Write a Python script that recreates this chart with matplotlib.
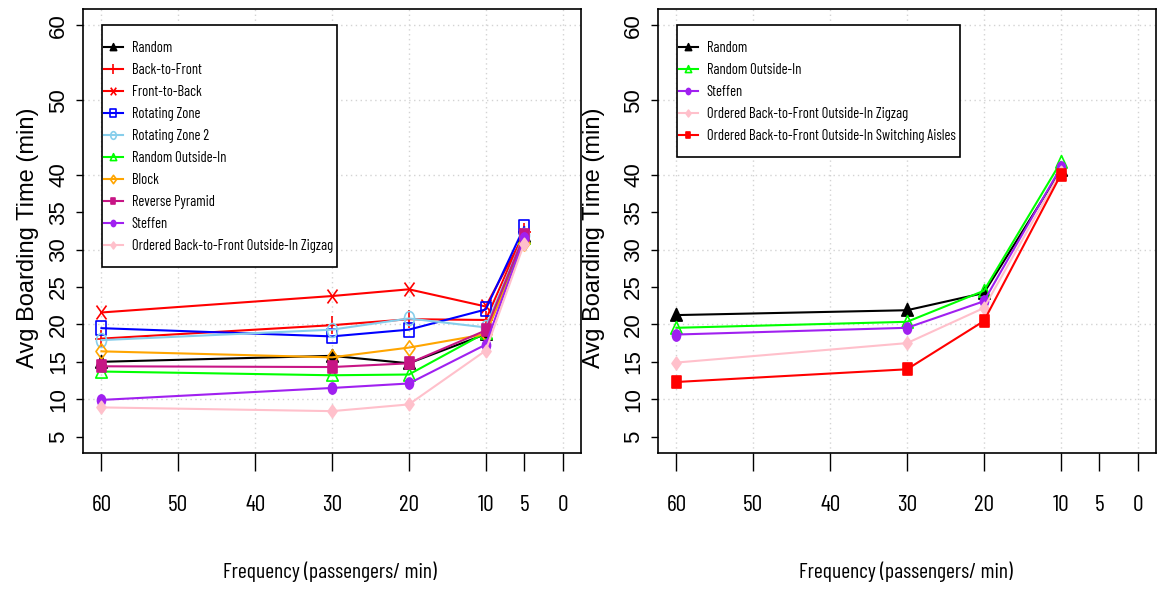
import matplotlib
matplotlib.use("Agg")
import matplotlib.pyplot as plt
from matplotlib import font_manager
from matplotlib.path import Path
from matplotlib.patches import Rectangle
from matplotlib.transforms import Affine2D

# frequency (passengers/min) at which each scenario was simulated
freq_left = [60, 30, 20, 10, 5]
freq_right = [60, 30, 20, 10]

# left panel: avg boarding time (min)
random_l = [15.0, 15.8, 14.8, 18.7, 31.8]
back_to_front = [18.1, 19.9, 20.7, 20.6, 32.3]
front_to_back = [21.6, 23.8, 24.7, 22.4, 32.0]
rotating_zone = [19.5, 18.4, 19.3, 22.0, 33.0]
rotating_zone_2 = [17.9, 19.3, 20.8, 19.6, 32.0]
random_oi_l = [13.7, 13.2, 13.3, 18.9, 31.6]
block = [16.4, 15.6, 16.9, 18.7, 30.9]
reverse_pyramid = [14.4, 14.3, 14.8, 19.2, 31.9]
steffen_l = [9.9, 11.5, 12.1, 17.3, 31.5]
zigzag_l = [8.9, 8.4, 9.3, 16.5, 30.8]

# right panel
random_r = [21.25, 21.9, 24.2, 40.6]
random_oi_r = [19.55, 20.35, 24.5, 41.7]
steffen_r = [18.65, 19.55, 23.1, 41.0]
zigzag_r = [14.9, 17.5, 22.2, 40.4]
switching_aisles = [12.3, 14.0, 20.45, 40.0]

x_ticks = [60, 50, 40, 30, 20, 10, 5, 0]
y_ticks = [5, 10, 15, 20, 25, 30, 35, 40, 50, 60]
grid_x = [60, 50, 40, 30, 20, 10, 0]
grid_y = [10, 20, 30, 40, 50, 60]

names = {f.name for f in font_manager.fontManager.ttflist}
narrow = next((n for n in ["Barlow Condensed", "Roboto Condensed", "Liberation Sans Narrow"]
               if n in names), "Liberation Sans")
wide = "Liberation Sans"

# the original picture is squeezed sideways, so markers are a bit taller than wide
R = 0.72
squash = Affine2D().scale(R, 1.0)
M = {
    "square": Path([(-0.5 * R, -0.5), (0.5 * R, -0.5), (0.5 * R, 0.5), (-0.5 * R, 0.5), (-0.5 * R, -0.5)],
                   [1, 2, 2, 2, 79]),
    "circle": squash.transform_path(Path.unit_circle()),
    "triangle": Path([(0, 0.5), (0.5 * R * 1.15, -0.4), (-0.5 * R * 1.15, -0.4), (0, 0.5)], [1, 2, 2, 79]),
    "diamond": Path([(0, 0.5), (0.5 * R, 0), (0, -0.5), (-0.5 * R, 0), (0, 0.5)], [1, 2, 2, 2, 79]),
    "plus": Path([(0, -0.5), (0, 0.5), (-0.5 * R, 0), (0.5 * R, 0)], [1, 2, 1, 2]),
    "cross": Path([(-0.5 * R, -0.5), (0.5 * R, 0.5), (-0.5 * R, 0.5), (0.5 * R, -0.5)], [1, 2, 1, 2]),
}

# (label, values, color, marker, filled, markersize)
left_series = [
    ("Random", random_l, "black", "triangle", True, 10),
    ("Back-to-Front", back_to_front, "#ff0000", "plus", False, 13),
    ("Front-to-Back", front_to_back, "#ff0000", "cross", False, 10),
    ("Rotating Zone", rotating_zone, "#0000ff", "square", False, 10),
    ("Rotating Zone 2", rotating_zone_2, "#87ceeb", "circle", False, 10),
    ("Random Outside-In", random_oi_l, "#00ff00", "triangle", False, 10),
    ("Block", block, "#ffa500", "diamond", False, 11),
    ("Reverse Pyramid", reverse_pyramid, "#c71585", "square", True, 9),
    ("Steffen", steffen_l, "#a020f0", "circle", True, 8),
    ("Ordered Back-to-Front Outside-In Zigzag", zigzag_l, "#ffc0cb", "diamond", True, 9),
]
right_series = [
    ("Random", random_r, "black", "triangle", True, 10),
    ("Random Outside-In", random_oi_r, "#00ff00", "triangle", False, 10),
    ("Steffen", steffen_r, "#a020f0", "circle", True, 8),
    ("Ordered Back-to-Front Outside-In Zigzag", zigzag_r, "#ffc0cb", "diamond", True, 9),
    ("Ordered Back-to-Front Outside-In Switching Aisles", switching_aisles, "#ff0000", "square", True, 9),
]

W, H = 1157, 589
fig = plt.figure(figsize=(W / 100, H / 100), dpi=100)
legends = []


def panel(x0_px, xs, series, ylab_px, xlab_px):
    ax = fig.add_axes([x0_px / W, 1 - 453 / H, 498 / W, 444 / H])
    for gx in grid_x:
        ax.axvline(gx, color="#d3d3d3", lw=1, ls=(0, (1, 2.5)), zorder=0)
    for gy in grid_y:
        ax.axhline(gy, color="#d3d3d3", lw=1, ls=(0, (1, 2.5)), zorder=0)
    for label, vals, color, mk, filled, ms in series:
        ax.plot(xs, vals, color=color, lw=1.5, marker=M[mk], ms=ms,
                mfc=color if filled else "none", mec=color, mew=1.2, label=label)
    ax.set_xlim(62.4, -2.4)
    ax.set_ylim(2.8, 62.2)
    ax.set_xticks(x_ticks)
    ax.set_xticklabels([str(t) for t in x_ticks], fontfamily=narrow, fontsize=17)
    ax.set_yticks(y_ticks)
    ax.set_yticklabels([str(t) for t in y_ticks], fontfamily=wide, fontsize=16,
                       rotation=90, va="center")
    ax.tick_params(axis="x", length=13, width=1, pad=17, direction="out")
    ax.tick_params(axis="y", length=5, width=1, pad=5, direction="out")
    for sp in ax.spines.values():
        sp.set_linewidth(1.2)
        sp.set_color("black")
    # frameless legend; the box is drawn afterwards with R-like padding
    leg = ax.legend(loc="upper left", bbox_to_anchor=(21 / 498, 1 - 32 / 444),
                    borderaxespad=0, frameon=False, borderpad=0,
                    prop={"family": narrow, "size": 10.5}, handlelength=1.3,
                    handletextpad=0.6, labelspacing=0.55,
                    markerscale=0.55, numpoints=1)
    legends.append((ax, leg))
    fig.text(ylab_px / W, 1 - 238 / H, "Avg Boarding Time (min)", rotation=90,
             ha="center", va="center", fontfamily=wide, fontsize=17)
    fig.text(xlab_px / W, 1 - 572 / H, "Frequency (passengers/ min)",
             ha="center", va="center", fontfamily=narrow, fontsize=15.5)
    return ax


panel(83, freq_left, left_series, 28, 330)
panel(658, freq_right, right_series, 594, 906)

fig.canvas.draw()
renderer = fig.canvas.get_renderer()
for ax, leg in legends:
    bb = leg.get_window_extent(renderer)
    x0, y0 = bb.x0 - 2, bb.y0 - 14
    x1, y1 = bb.x1 + 4, bb.y1 + 16
    box = Rectangle((x0 / W, y0 / H), (x1 - x0) / W, (y1 - y0) / H, transform=fig.transFigure,
                    facecolor="white", edgecolor="black", lw=1.2, zorder=4.5, clip_on=False)
    ax.add_patch(box)

fig.savefig("out.png", dpi=100)
